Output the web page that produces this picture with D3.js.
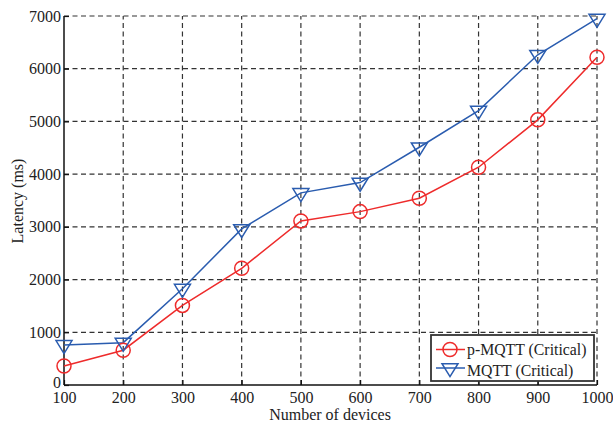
<!DOCTYPE html>
<html>
<head>
<meta charset="utf-8">
<script src="https://cdn.jsdelivr.net/npm/d3@7"></script>
<style>
html,body{margin:0;padding:0;background:#fff;}
svg{display:block;font-family:"Liberation Serif","Times New Roman",serif;}
</style>
</head>
<body>
<svg id="chart" width="613" height="423"></svg>
<script>
const devices = [100, 200, 300, 400, 500, 600, 700, 800, 900, 1000];
const pMqtt = [360, 660, 1510, 2214, 3112, 3289, 3543, 4131, 5030, 6218];
const mqtt = [760, 803, 1827, 2960, 3645, 3840, 4510, 5205, 6265, 6950];
const xTicks = [100, 200, 300, 400, 500, 600, 700, 800, 900, 1000];
const yTicks = [0, 1000, 2000, 3000, 4000, 5000, 6000, 7000];
const seriesNames = ["p-MQTT (Critical)", "MQTT (Critical)"];

const FONT = "Liberation Serif, Times New Roman, serif";
const svg = d3.select("#chart");
const pLeft = 64, pRight = 597, pTop = 16, pBottom = 385;
const x = d3.scaleLinear().domain([100, 1000]).range([pLeft, pRight]);
const y = d3.scaleLinear().domain([0, 7000]).range([pBottom, pTop]);

const red = "#ee2b2b", blue = "#2a5caf";

// grid
const grid = svg.append("g");
grid.selectAll(".gx").data(xTicks.slice(1)).join("line")
  .attr("x1", d => x(d)).attr("x2", d => x(d)).attr("y1", pBottom).attr("y2", pTop)
  .attr("stroke", "#333").attr("stroke-width", 1.2).attr("stroke-dasharray", "5,3.5");
grid.selectAll(".gy").data(yTicks.slice(1)).join("line")
  .attr("x1", pLeft).attr("x2", pRight).attr("y1", d => y(d)).attr("y2", d => y(d))
  .attr("stroke", "#333").attr("stroke-width", 1.2).attr("stroke-dasharray", "5,3.5");

// axes
const xAxis = d3.axisBottom(x).tickValues(xTicks).tickSize(-5).tickPadding(7).tickFormat(d3.format("d"));
const yAxis = d3.axisLeft(y).tickValues(yTicks).tickSize(-5).tickPadding(3).tickFormat(d3.format("d"));
const gx = svg.append("g").attr("transform", `translate(0,${pBottom})`).call(xAxis);
const gy = svg.append("g").attr("transform", `translate(${pLeft},0)`).call(yAxis);
[gx, gy].forEach(g => {
  g.attr("font-family", FONT).attr("font-size", 16);
  g.select(".domain").attr("stroke", "#111").attr("stroke-width", 1.5);
  g.selectAll(".tick line").attr("stroke", "#111").attr("stroke-width", 1.2);
  g.selectAll(".tick text").attr("fill", "#222");
});
gx.select(".domain").attr("d", `M${pLeft},0H${pRight}`);
gy.select(".domain").attr("d", `M0,${pBottom}V${pTop}`);
gy.selectAll(".tick text").filter(d => d === 0).attr("y", -3);

// axis labels
svg.append("text").attr("x", 330).attr("y", 420).attr("text-anchor", "middle")
  .attr("font-family", FONT).attr("font-size", 16).attr("fill", "#222").text("Number of devices");
svg.append("text").attr("transform", "translate(23,201) rotate(-90)").attr("text-anchor", "middle")
  .attr("font-family", FONT).attr("font-size", 16).attr("fill", "#222").text("Latency (ms)");

// lines
const line = d3.line().x((d, i) => x(devices[i])).y(d => y(d));
svg.append("path").datum(pMqtt).attr("d", line).attr("fill", "none").attr("stroke", red).attr("stroke-width", 1.5);
svg.append("path").datum(mqtt).attr("d", line).attr("fill", "none").attr("stroke", blue).attr("stroke-width", 1.5);

function tri(cx, cy) {
  const w = 16, h = 13;
  const t = cy - h / 3, b = cy + 2 * h / 3;
  return `M${cx - w/2},${t}L${cx + w/2},${t}L${cx},${b}Z`;
}
svg.append("g").selectAll("circle").data(pMqtt).join("circle")
  .attr("cx", (d, i) => x(devices[i])).attr("cy", d => y(d)).attr("r", 7)
  .attr("fill", "none").attr("stroke", red).attr("stroke-width", 1.5);
svg.append("g").selectAll("path").data(mqtt).join("path")
  .attr("d", (d, i) => tri(x(devices[i]), y(d)))
  .attr("fill", "none").attr("stroke", blue).attr("stroke-width", 1.5);

// legend
const lg = svg.append("g");
lg.append("rect").attr("x", 431).attr("y", 335).attr("width", 163).attr("height", 46)
  .attr("fill", "#fff").attr("stroke", "#333").attr("stroke-width", 1.8);
const rows = [{name: seriesNames[0], color: red, m: "c", yy: 349.5}, {name: seriesNames[1], color: blue, m: "t", yy: 368}];
rows.forEach(r => {
  lg.append("line").attr("x1", 436).attr("x2", 465).attr("y1", r.yy).attr("y2", r.yy)
    .attr("stroke", r.color).attr("stroke-width", 1.5);
  if (r.m === "c") lg.append("circle").attr("cx", 450).attr("cy", r.yy).attr("r", 7)
    .attr("fill", "none").attr("stroke", r.color).attr("stroke-width", 1.5);
  else lg.append("path").attr("d", tri(450, r.yy))
    .attr("fill", "none").attr("stroke", r.color).attr("stroke-width", 1.5);
  lg.append("text").attr("x", 467).attr("y", r.yy + (r.m === "c" ? 5.5 : 7.5)).attr("font-family", FONT)
    .attr("font-size", 15.8).attr("fill", "#222").text(r.name);
});
</script>
</body>
</html>
